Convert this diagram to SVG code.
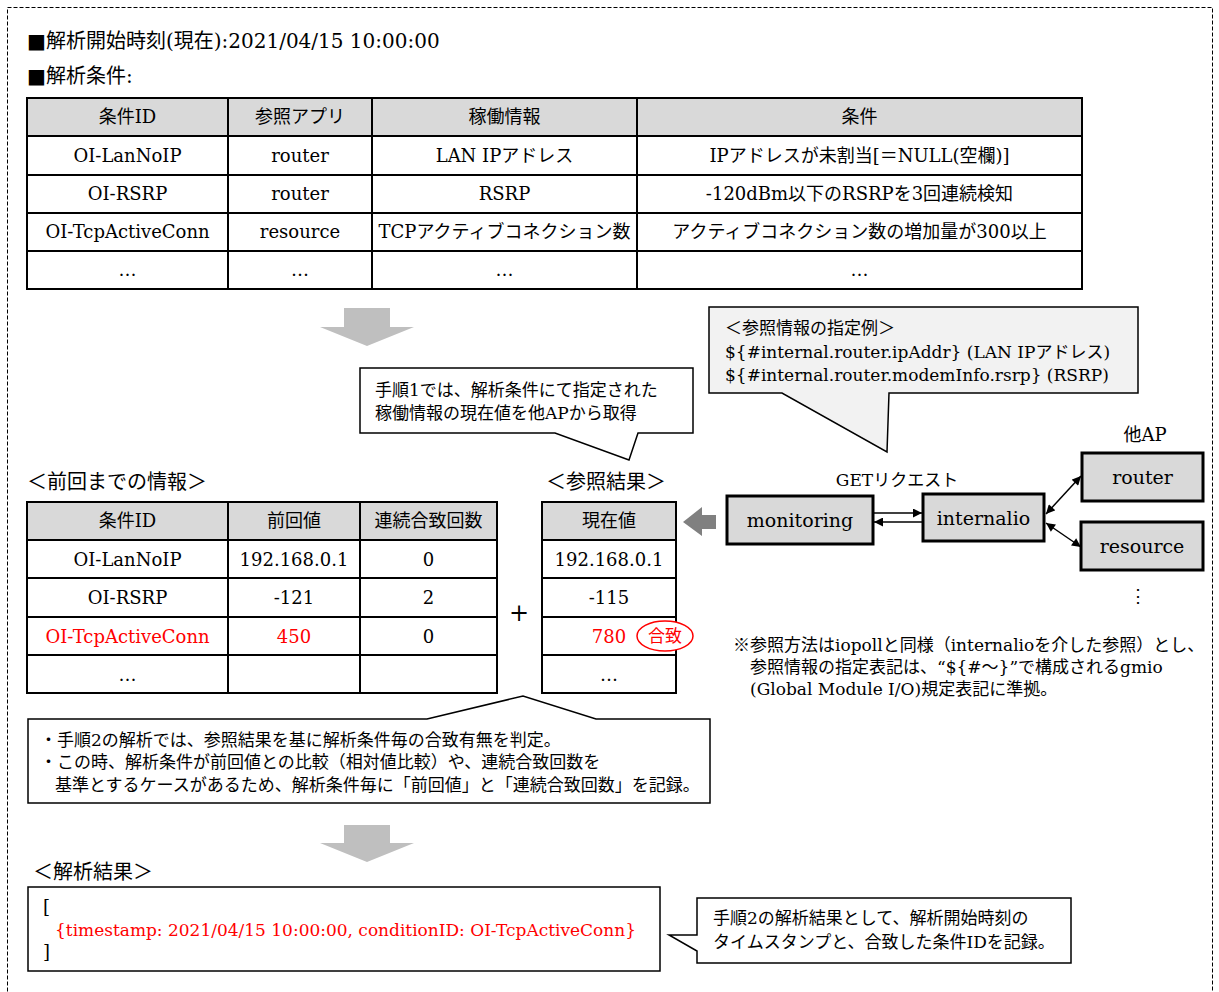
<svg xmlns="http://www.w3.org/2000/svg" width="1219" height="992" viewBox="0 0 1219 992">
<style>
text{font-family:"DejaVu Serif","Noto Sans CJK JP",serif;font-size:18px;fill:#000}
.c{text-anchor:middle}
.r{fill:#ff0000}
.h{font-size:20px}
.s{font-size:17px}
.hd{fill:#d9d9d9}
.grid{stroke:#000;stroke-width:2;fill:none}
.node{fill:#d9d9d9;stroke:#000;stroke-width:3}
.call{fill:#fff;stroke:#000;stroke-width:1.5}
.gray{fill:#bfbfbf}
.con{stroke:#000;stroke-width:1.5;fill:none}
</style>
<defs>
<marker id="ah" viewBox="0 0 10 10" refX="10" refY="5" markerWidth="10" markerHeight="9" markerUnits="userSpaceOnUse" orient="auto-start-reverse"><path d="M0,0 L10,5 L0,10 Z" fill="#000"/></marker>
</defs>
<rect x="7.5" y="7.5" width="1205" height="1000" fill="none" stroke="#000" stroke-width="1" stroke-dasharray="4 2"/>

<g id="heading">
<text x="27" y="48" class="h">■解析開始時刻(現在):2021/04/15 10:00:00</text>
<text x="27" y="83" class="h">■解析条件:</text>
</g>

<g id="table-conditions">
<rect x="27" y="98" width="1055" height="38" class="hd"/>
<rect x="27" y="98" width="1055" height="191" class="grid"/>
<path d="M27,136H1082M27,175H1082M27,213H1082M27,251H1082M228,98V289M372,98V289M637,98V289" class="grid"/>
<text x="127.5" y="123" class="c">条件ID</text>
<text x="300" y="123" class="c">参照アプリ</text>
<text x="504.5" y="123" class="c">稼働情報</text>
<text x="859.5" y="123" class="c">条件</text>
<text x="127.5" y="162" class="c">OI-LanNoIP</text>
<text x="300" y="162" class="c">router</text>
<text x="504.5" y="162" class="c">LAN IPアドレス</text>
<text x="859.5" y="162" class="c">IPアドレスが未割当[＝NULL(空欄)]</text>
<text x="127.5" y="200" class="c">OI-RSRP</text>
<text x="300" y="200" class="c">router</text>
<text x="504.5" y="200" class="c">RSRP</text>
<text x="859.5" y="200" class="c">-120dBm以下のRSRPを3回連続検知</text>
<text x="127.5" y="238" class="c">OI-TcpActiveConn</text>
<text x="300" y="238" class="c">resource</text>
<text x="504.5" y="238" class="c">TCPアクティブコネクション数</text>
<text x="859.5" y="238" class="c">アクティブコネクション数の増加量が300以上</text>
<text x="127.5" y="276" class="c">…</text>
<text x="300" y="276" class="c">…</text>
<text x="504.5" y="276" class="c">…</text>
<text x="859.5" y="276" class="c">…</text>
</g>

<g id="arrow-down-1">
<path d="M344,308H390V327H414L367,346L320,327H344Z" class="gray"/>
</g>

<g id="callout-step1">
<path d="M360,368H693V433H638L629,460L555,433H360Z" class="call"/>
<text x="375" y="396" class="s">手順1では、解析条件にて指定された</text>
<text x="375" y="419" class="s">稼働情報の現在値を他APから取得</text>
</g>

<g id="callout-ref-example">
<path d="M709,307H1138V393H889L887,452L782,393H709Z" class="call" style="fill:#f2f2f2"/>
<text x="725" y="334" class="s">＜参照情報の指定例＞</text>
<text x="725" y="358" class="s">${#internal.router.ipAddr} (LAN IPアドレス)</text>
<text x="725" y="381" class="s">${#internal.router.modemInfo.rsrp} (RSRP)</text>
</g>

<g id="label-prev">
<text x="27" y="489" class="h">＜前回までの情報＞</text>
<text x="546" y="489" class="h">＜参照結果＞</text>
</g>

<g id="table-prev">
<rect x="27" y="502" width="470" height="38" class="hd"/>
<rect x="27" y="502" width="470" height="191" class="grid"/>
<path d="M27,540H497M27,578H497M27,617H497M27,655H497M228,502V693M360,502V693" class="grid"/>
<text x="127.5" y="527" class="c">条件ID</text>
<text x="294" y="527" class="c">前回値</text>
<text x="428.5" y="527" class="c">連続合致回数</text>
<text x="127.5" y="566" class="c">OI-LanNoIP</text>
<text x="294" y="566" class="c">192.168.0.1</text>
<text x="428.5" y="566" class="c">0</text>
<text x="127.5" y="604" class="c">OI-RSRP</text>
<text x="294" y="604" class="c">-121</text>
<text x="428.5" y="604" class="c">2</text>
<text x="127.5" y="643" class="c r">OI-TcpActiveConn</text>
<text x="294" y="643" class="c r">450</text>
<text x="428.5" y="643" class="c">0</text>
<text x="127.5" y="681" class="c">…</text>
</g>

<g id="plus"><text x="519" y="621" class="c" style="font-size:24px">+</text></g>

<g id="table-current">
<rect x="542" y="502" width="134" height="38" class="hd"/>
<rect x="542" y="502" width="134" height="191" class="grid"/>
<path d="M542,540H676M542,578H676M542,617H676M542,655H676" class="grid"/>
<text x="609" y="527" class="c">現在値</text>
<text x="609" y="566" class="c">192.168.0.1</text>
<text x="609" y="604" class="c">-115</text>
<text x="609" y="643" class="c r">780</text>
<text x="609" y="681" class="c">…</text>
<ellipse cx="665" cy="636" rx="28" ry="15" fill="#fff" stroke="#ff0000" stroke-width="1.5"/>
<text x="665" y="642" class="c r s">合致</text>
</g>

<g id="arrow-left">
<path d="M716,515V529H702V536L683,522L702,507V515Z" fill="#808080"/>
</g>

<g id="node-monitoring">
<rect x="727" y="496" width="146" height="48" class="node"/>
<text x="800" y="527" class="c" style="font-size:19px">monitoring</text>
</g>
<g id="node-internalio">
<rect x="923" y="494" width="121" height="47" class="node"/>
<text x="983.5" y="525" class="c" style="font-size:19px">internalio</text>
</g>
<g id="node-router">
<rect x="1082" y="453" width="121" height="48" class="node"/>
<text x="1142.5" y="484" class="c" style="font-size:19px">router</text>
</g>
<g id="node-resource">
<rect x="1081" y="522" width="122" height="48" class="node"/>
<text x="1142" y="553" class="c" style="font-size:19px">resource</text>
</g>

<g id="labels-net">
<text x="897" y="486" class="c s">GETリクエスト</text>
<text x="1145" y="441" class="c">他AP</text>
<text x="1138" y="602" class="c">⋮</text>
</g>

<g id="connectors">
<line x1="873" y1="513" x2="922" y2="513" class="con" marker-end="url(#ah)"/>
<line x1="923" y1="522" x2="874" y2="522" class="con" marker-end="url(#ah)"/>
<line x1="1046" y1="514" x2="1081" y2="476" class="con" marker-start="url(#ah)" marker-end="url(#ah)"/>
<line x1="1046" y1="523" x2="1081" y2="547" class="con" marker-start="url(#ah)" marker-end="url(#ah)"/>
</g>

<g id="note">
<text x="733" y="651" class="s">※参照方法はiopollと同様（internalioを介した参照）とし、</text>
<text x="750" y="673" class="s">参照情報の指定表記は、“${#～}”で構成されるgmio</text>
<text x="750" y="695" class="s">(Global Module I/O)規定表記に準拠。</text>
</g>

<g id="callout-step2">
<path d="M28,719H427L523,696L596,719H710V803H28Z" class="call"/>
<text x="40" y="746" class="s">・手順2の解析では、参照結果を基に解析条件毎の合致有無を判定。</text>
<text x="40" y="768" class="s">・この時、解析条件が前回値との比較（相対値比較）や、連続合致回数を</text>
<text x="55" y="791" class="s">基準とするケースがあるため、解析条件毎に「前回値」と「連続合致回数」を記録。</text>
</g>

<g id="arrow-down-2">
<path d="M344,825H390V843H414L367,862L320,843H344Z" class="gray"/>
</g>

<g id="result">
<text x="33" y="879" class="h">＜解析結果＞</text>
<rect x="28" y="887" width="632" height="84" fill="#fff" stroke="#000" stroke-width="1.5"/>
<text x="43" y="913">[</text>
<text x="55" y="936" class="r" style="font-size:17px" textLength="581" lengthAdjust="spacingAndGlyphs">{timestamp: 2021/04/15 10:00:00, conditionID: OI-TcpActiveConn}</text>
<text x="43" y="958">]</text>
</g>

<g id="callout-result">
<path d="M697,898H1071V963H697V951L669,935H697Z" class="call"/>
<text x="713" y="924" class="s">手順2の解析結果として、解析開始時刻の</text>
<text x="713" y="948" class="s">タイムスタンプと、合致した条件IDを記録。</text>
</g>
</svg>
